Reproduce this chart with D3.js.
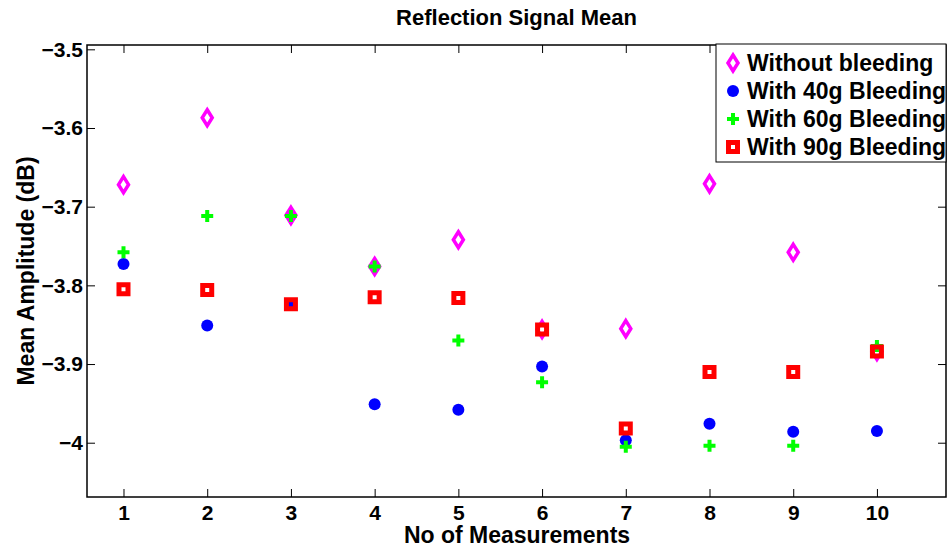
<!DOCTYPE html>
<html>
<head>
<meta charset="utf-8">
<script src="https://cdn.jsdelivr.net/npm/d3@7"></script>
<style>
  body { margin: 0; background: #fff; }
  text { font-family: "Liberation Sans", Arial, sans-serif; font-weight: bold; fill: #000; }
</style>
</head>
<body>
<svg class="main"></svg>
<script>
// measurement index 1..10
let measurements = [1, 2, 3, 4, 5, 6, 7, 8, 9, 10];

let withoutBleeding = [-3.672, -3.587, -3.711, -3.776, -3.742, -3.856, -3.855, -3.671, -3.758, -3.884];
let with40g = [-3.773, -3.851, -3.824, -3.951, -3.958, -3.903, -3.997, -3.976, -3.986, -3.985];
let with60g = [-3.758, -3.712, -3.712, -3.776, -3.870, -3.923, -4.005, -4.004, -4.004, -3.877];
let with90g = [-3.805, -3.806, -3.824, -3.815, -3.816, -3.856, -3.982, -3.910, -3.910, -3.884];

let seriesNames = ['Without bleeding', 'With 40g Bleeding', 'With 60g Bleeding', 'With 90g Bleeding'];
let yTicks = [-3.5, -3.6, -3.7, -3.8, -3.9, -4];
let yTickLabels = ['\u22123.5', '\u22123.6', '\u22123.7', '\u22123.8', '\u22123.9', '\u22124'];

let w = 950, h = 549;
let pLeft = 87, pRight = 946, pTop = 45, pBottom = 497;

let svg = d3.select('.main')
    .attr('width', w)
    .attr('height', h)
    .style('background-color', '#fff');

let x = d3.scaleLinear().domain([0.564, 10.825]).range([pLeft, pRight]);
let y = d3.scaleLinear().domain([-4.069, -3.4945]).range([pBottom, pTop]);

// axes (MATLAB style box with inward ticks)
let xAxis = svg.append('g')
    .attr('transform', `translate(0,${pBottom})`)
    .call(d3.axisBottom(x).tickValues(measurements).tickSize(-8).tickPadding(8).tickFormat(d3.format('d')));
let xTop = svg.append('g')
    .attr('transform', `translate(0,${pTop})`)
    .call(d3.axisTop(x).tickValues(measurements).tickSize(-8).tickFormat(''));
let yAxis = svg.append('g')
    .attr('transform', `translate(${pLeft},0)`)
    .call(d3.axisLeft(y).tickValues(yTicks).tickSize(-8).tickPadding(4).tickFormat((d, i) => yTickLabels[i]));
let yRight = svg.append('g')
    .attr('transform', `translate(${pRight},0)`)
    .call(d3.axisRight(y).tickValues(yTicks).tickSize(-8).tickFormat(''));

svg.selectAll('.domain').remove();
svg.selectAll('.tick line').attr('stroke', '#000').attr('stroke-width', 1);
xAxis.selectAll('text').style('font-size', '21px').attr('dy', '0.71em');
yAxis.selectAll('text').style('font-size', '21px');

svg.append('rect')
    .attr('x', pLeft).attr('y', pTop)
    .attr('width', pRight - pLeft).attr('height', pBottom - pTop)
    .attr('fill', 'none').attr('stroke', '#000').attr('stroke-width', 1.5);

// marker shapes
let markers = {
    diamond: 'M0,-8L5,0L0,8L-5,0Z',
    plus: 'M-6,0H6M0,-6V6',
    square: 'M-4.5,-4.5H4.5V4.5H-4.5Z'
};

function drawSeries(g, vals, kind) {
    let pts = g.selectAll('.pt')
        .data(vals)
        .enter();
    if (kind === 'circle') {
        pts.append('circle')
            .attr('cx', (d, i) => x(measurements[i]))
            .attr('cy', d => y(d))
            .attr('r', 6)
            .attr('fill', '#0000ff');
    } else if (kind === 'diamond') {
        pts.append('path')
            .attr('d', markers.diamond)
            .attr('transform', (d, i) => `translate(${x(measurements[i])},${y(d)})`)
            .attr('fill', 'none').attr('stroke', '#ff00ff').attr('stroke-width', 3.5);
    } else if (kind === 'plus') {
        pts.append('path')
            .attr('d', markers.plus)
            .attr('transform', (d, i) => `translate(${x(measurements[i])},${y(d)})`)
            .attr('fill', 'none').attr('stroke', '#00ff00').attr('stroke-width', 4);
    } else {
        pts.append('path')
            .attr('d', markers.square)
            .attr('transform', (d, i) => `translate(${x(measurements[i])},${y(d)})`)
            .attr('fill', 'none').attr('stroke', '#ff0000').attr('stroke-width', 5);
    }
}

let series = [withoutBleeding, with40g, with60g, with90g];
let kinds = ['diamond', 'circle', 'plus', 'square'];
series.forEach((s, i) => drawSeries(svg.append('g'), s, kinds[i]));

// title and labels
svg.append('text')
    .attr('x', (pLeft + pRight) / 2).attr('y', 25)
    .attr('text-anchor', 'middle')
    .style('font-size', '22px')
    .text('Reflection Signal Mean');

svg.append('text')
    .attr('x', 517).attr('y', 543)
    .attr('text-anchor', 'middle')
    .style('font-size', '23px')
    .text('No of Measurements');

svg.append('text')
    .attr('transform', `translate(34,${(pTop + pBottom) / 2}) rotate(-90)`)
    .attr('text-anchor', 'middle')
    .style('font-size', '23px')
    .text('Mean Amplitude (dB)');

// legend
let legend = svg.append('g');
legend.append('rect')
    .attr('x', 716).attr('y', 44)
    .attr('width', pRight - 716).attr('height', 118)
    .attr('fill', '#fff').attr('stroke', '#000').attr('stroke-width', 1);

seriesNames.forEach((name, i) => {
    let ly = 63 + i * 28;
    let row = legend.append('g');
    if (kinds[i] === 'circle') {
        row.append('circle').attr('cx', 733).attr('cy', ly).attr('r', 6).attr('fill', '#0000ff');
    } else {
        let col = { diamond: '#ff00ff', plus: '#00ff00', square: '#ff0000' }[kinds[i]];
        let sw = { diamond: 3.5, plus: 4, square: 5 }[kinds[i]];
        row.append('path')
            .attr('d', markers[kinds[i]])
            .attr('transform', `translate(733,${ly})`)
            .attr('fill', 'none').attr('stroke', col).attr('stroke-width', sw);
    }
    row.append('text')
        .attr('x', 747).attr('y', ly)
        .attr('dy', '0.36em')
        .style('font-size', '23px')
        .text(name);
});
</script>
</body>
</html>
